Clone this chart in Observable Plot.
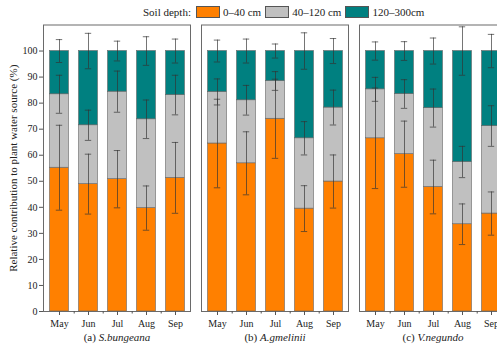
<!DOCTYPE html>
<html>
<head>
<meta charset="utf-8">
<script src="https://cdn.jsdelivr.net/npm/d3@7"></script>
<script src="https://cdn.jsdelivr.net/npm/@observablehq/plot@0.6"></script>
<style>
  html, body { margin: 0; padding: 0; background: #fff; overflow: hidden; }
  #wrap { position: relative; width: 497px; height: 348px; overflow: hidden; font-family: "Liberation Serif", "Times New Roman", serif; }
  #legend { position: absolute; left: 143px; top: 6px; display: flex; align-items: center; font-size: 11px; color: #222; white-space: nowrap; }
  #legend .sw { width: 22px; height: 10px; border: 1px solid #555; margin-right: 3px; }
  #legend .lab { margin-right: 4px; }
  #chart { position: absolute; left: 0; top: 0; width: 520px; }
  #chart svg { max-width: none !important; }
</style>
</head>
<body>
<div id="wrap">
  <div id="chart"></div>
  <div id="legend"></div>
</div>
<script>
// ---- data ----
const species = ["S.bungeana", "A.gmelinii", "V.negundo"];
const panelTags = ["(a)", "(b)", "(c)"];
const months = ["May", "Jun", "Jul", "Aug", "Sep"];
const layers = ["0–40 cm", "40–120 cm", "120–300cm"];
const layerColors = ["#ff8000", "#c0c0c0", "#008080"];
const legendTitle = "Soil depth:";
const yLabel = "Relative contribution to plant water source (%)";
const yTicks = [0, 10, 20, 30, 40, 50, 60, 70, 80, 90, 100];

// (a) S.bungeana
const aShallow = [55.2, 48.9, 50.8, 39.7, 51.3];
const aMiddle  = [28.2, 22.6, 33.6, 34.1, 31.8];
const aDeep    = [16.6, 28.5, 15.6, 26.2, 16.9];
const aShallowErr = [16.3, 11.5, 11.0, 8.5, 13.6];
const aMiddleErr  = [7.3, 5.8, 7.9, 7.4, 7.6];
const aDeepErr    = [4.4, 6.8, 3.8, 5.5, 4.6];
// (b) A.gmelinii
const bShallow = [64.5, 56.9, 74.0, 39.5, 49.9];
const bMiddle  = [19.8, 24.2, 14.5, 27.0, 28.4];
const bDeep    = [15.7, 18.9, 11.5, 33.5, 21.7];
const bShallowErr = [17.0, 12.1, 15.2, 8.8, 10.2];
const bMiddleErr  = [5.0, 5.7, 3.6, 6.4, 6.7];
const bDeepErr    = [4.2, 4.6, 2.7, 7.0, 4.8];
// (c) V.negundo
const cShallow = [66.5, 60.4, 47.8, 33.5, 37.6];
const cMiddle  = [18.8, 23.1, 30.3, 23.9, 33.6];
const cDeep    = [14.7, 16.5, 21.9, 42.6, 28.8];
const cShallowErr = [19.3, 12.7, 10.3, 7.8, 8.3];
const cMiddleErr  = [4.6, 5.5, 7.3, 6.0, 7.8];
const cDeepErr    = [3.5, 3.6, 5.0, 9.3, 6.4];

// ---- build table ----
const valueSets = [[aShallow, aMiddle, aDeep], [bShallow, bMiddle, bDeep], [cShallow, cMiddle, cDeep]];
const errSets = [[aShallowErr, aMiddleErr, aDeepErr], [bShallowErr, bMiddleErr, bDeepErr], [cShallowErr, cMiddleErr, cDeepErr]];
const rows = [];
species.forEach((sp, si) => {
  months.forEach((m, mi) => {
    let base = 0;
    layers.forEach((ly, li) => {
      const v = valueSets[si][li][mi];
      const e = errSets[si][li][mi];
      rows.push({species: sp, month: m, layer: ly, base, top: base + v, lo: base + v - e, hi: base + v + e});
      base += v;
    });
  });
});
const facetRows = species.map((sp, i) => ({species: sp, tag: panelTags[i]}));

// ---- legend ----
const legend = document.getElementById("legend");
const lt = document.createElement("span");
lt.textContent = legendTitle;
lt.style.marginRight = "5px";
legend.appendChild(lt);
layers.forEach((ly, i) => {
  const sw = document.createElement("span");
  sw.className = "sw";
  sw.style.background = layerColors[i];
  legend.appendChild(sw);
  const lb = document.createElement("span");
  lb.className = "lab";
  lb.textContent = ly;
  legend.appendChild(lb);
});

// ---- chart ----
const W = 512;
const chart = Plot.plot({
  width: W,
  height: 348,
  marginTop: 24.5,
  marginBottom: 37,
  marginLeft: 42.5,
  marginRight: 5.5,
  style: {fontFamily: "'Liberation Serif', 'Times New Roman', serif", fontSize: "10px", color: "#222", background: "transparent", maxWidth: "none"},
  fx: {domain: species, paddingInner: 0.0726, paddingOuter: 0, axis: null, label: null},
  x: {domain: months, paddingInner: 0.35, paddingOuter: 0.175, label: null},
  y: {domain: [0, 110], label: null},
  color: {domain: layers, range: layerColors},
  marks: [
    Plot.barY(rows, {fx: "species", x: "month", y1: "base", y2: "top", fill: "layer", stroke: "#666", strokeWidth: 0.6}),
    Plot.ruleX(rows, {fx: "species", x: "month", y1: "lo", y2: "hi", stroke: "#333", strokeWidth: 0.8, strokeOpacity: 0.85}),
    Plot.tickY(rows, {fx: "species", x: "month", y: "lo", insetLeft: 6.3, insetRight: 6.3, stroke: "#333", strokeWidth: 0.8, strokeOpacity: 0.85}),
    Plot.tickY(rows, {fx: "species", x: "month", y: "hi", insetLeft: 6.3, insetRight: 6.3, stroke: "#333", strokeWidth: 0.8, strokeOpacity: 0.85}),
    Plot.frame({stroke: "#6a6a6a", strokeWidth: 1}),
    Plot.axisY({ticks: yTicks, tickSize: 4, tickPadding: 2, label: yLabel, labelAnchor: "center", labelOffset: 34, labelArrow: "none", stroke: "#555"}),
    Plot.axisX({tickSize: 4, tickPadding: 4, label: null, stroke: "#555"}),
    Plot.axisX({ticks: months.slice(0, 4), tickSize: 2.5, tickFormat: () => "", dx: 14.7, label: null, stroke: "#555"}),
    Plot.text(facetRows, {fx: "species", text: d => d.tag + " " + d.species, frameAnchor: "bottom", dy: 29, fontSize: 11, fill: "#222"})
  ]
});
chart.style.maxWidth = "none";
document.getElementById("chart").appendChild(chart);

// italic species names in facet titles; larger y-axis label
d3.select(chart).selectAll("text").each(function() {
  const t = d3.select(this);
  const s = t.text();
  const i = panelTags.findIndex((tag, k) => s === tag + " " + species[k]);
  if (i >= 0) {
    t.text(null);
    t.append("tspan").text(panelTags[i] + " ");
    t.append("tspan").attr("font-style", "italic").text(species[i]);
  }
  if (s.indexOf(yLabel) >= 0) t.attr("font-size", 11);
});
</script>
</body>
</html>
